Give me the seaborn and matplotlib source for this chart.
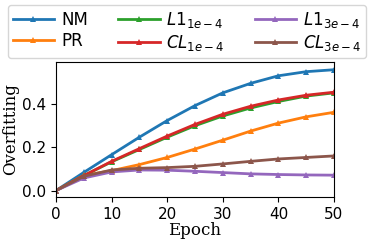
import numpy as np
import matplotlib
matplotlib.use("Agg")
import matplotlib.pyplot as plt
import seaborn as sb
import pandas as pd

# DATA
#-----------------------
epochs = [0, 5, 10, 15, 20, 25, 30, 35, 40, 45, 50]
nm = [0.0, 0.084, 0.166, 0.247, 0.324, 0.393, 0.452, 0.496, 0.531, 0.550, 0.559]
pr = [0.0, 0.070, 0.092, 0.120, 0.153, 0.192, 0.233, 0.275, 0.312, 0.341, 0.362]
l1_1e4 = [0.0, 0.069, 0.133, 0.190, 0.247, 0.300, 0.345, 0.382, 0.412, 0.437, 0.452]
cl_1e4 = [0.0, 0.069, 0.135, 0.194, 0.252, 0.306, 0.353, 0.390, 0.419, 0.441, 0.455]
l1_3e4 = [0.0, 0.058, 0.086, 0.095, 0.094, 0.089, 0.083, 0.077, 0.074, 0.072, 0.071]
cl_3e4 = [0.0, 0.066, 0.095, 0.103, 0.106, 0.112, 0.123, 0.135, 0.146, 0.153, 0.160]

labels = ["NM", "PR", r"$L1_{1e-4}$", r"$CL_{1e-4}$", r"$L1_{3e-4}$", r"$CL_{3e-4}$"]
series = [nm, pr, l1_1e4, cl_1e4, l1_3e4, cl_3e4]
colors = ["#1f77b4", "#ff7f0e", "#2ca02c", "#d62728", "#9467bd", "#8c564b"]

# PLOT
#-----------------------
fig = plt.figure(figsize=(3.74, 2.42), dpi=100)
ax = fig.add_axes([0.15, 0.186, 0.743, 0.558])

for lab, vals, col in zip(labels, series, colors):
    sb.lineplot(x=epochs, y=vals, ax=ax, color=col, label=lab,
                marker="^", markersize=5, markeredgewidth=0, linewidth=2)

for side in ["top", "right", "left", "bottom"]:
    ax.spines[side].set_visible(True)
    ax.spines[side].set_color("black")
    ax.spines[side].set_linewidth(0.8)

ax.set_xlim(0, 50)
ax.set_ylim(-0.03, 0.595)
ax.set_xticks([0, 10, 20, 30, 40, 50])
ax.set_yticks([0.0, 0.2, 0.4])
ax.tick_params(labelsize=11)
ax.set_xlabel("Epoch", family="DejaVu Serif", fontsize=12, labelpad=0)
ax.set_ylabel("Overfitting", family="DejaVu Serif", fontsize=12, labelpad=2)

handles, labs = ax.get_legend_handles_labels()
ax.get_legend().remove()
fig.legend(handles, labs,
           loc="upper center", bbox_to_anchor=(0.5, 0.98), ncol=3,
           borderaxespad=0, fontsize=12, handlelength=2.5, columnspacing=1.8,
           handletextpad=0.4, borderpad=0.3, labelspacing=0.2)

fig.savefig("out.png", dpi=100)
